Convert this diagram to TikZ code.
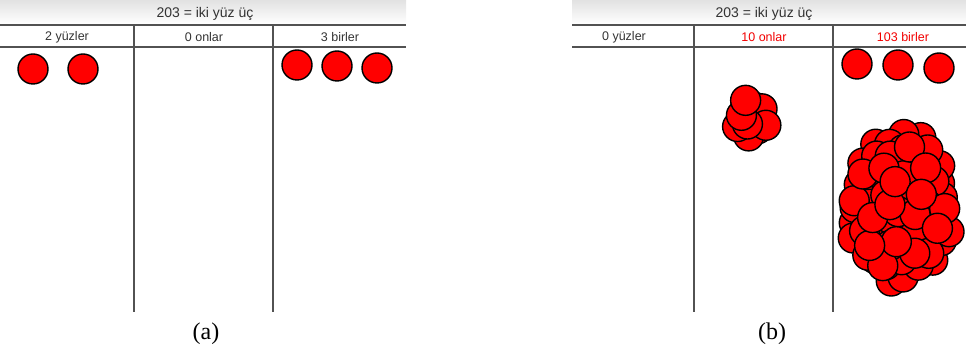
\documentclass[tikz,border=0pt]{standalone}
\usepackage{fontspec}
\setmainfont{Liberation Serif}
\newfontfamily\hdfont{Liberation Sans}
\usepackage{xcolor}
\usetikzlibrary{positioning}
\tikzset{
  coin/.style  ={circle, draw=black, line width=1.4pt, fill=red,
                 minimum size=30pt, inner sep=0pt},
  rule/.style  ={line width=1.6pt, black!68},
  band/.style  ={top color=black!11, bottom color=white, draw=none},
  hd/.style    ={font=\hdfont\fontsize{12.5}{14}\selectfont, text=black!80,
                 inner sep=1pt},
  ttl/.style   ={font=\hdfont\fontsize{14}{16}\selectfont, text=black!80,
                 inner sep=1pt},
  capt/.style  ={font=\fontsize{24}{26}\selectfont, inner sep=0pt}
}
\colorlet{hot}{red!95!black}

\begin{document}
\begin{tikzpicture}[x=1pt, y=-1pt]
\useasboundingbox (0,0) rectangle (966,352);

% panel (a): 203 as 2 hundreds, 0 tens, 3 ones
\shade[band] (0,1) rectangle (406,24);
\node[ttl] (ta) at (205,14) {203 = iki yüz üç};
\draw[rule] (0,25) -- (406,25);
\draw[rule] (0,47) -- (406,47);
\draw[rule] (134,25) -- (134,312);
\draw[rule] (273,25) -- (273,312);
\node[hd] (ha) at (67,37) {2 yüzler};
\node[hd] (ta2) at (204,37) {0 onlar};
\node[hd] (oa) at (340,37) {3 birler};
\node[coin] (a1) at (33,69) {};
\node[coin] (a2) at (83,69) {};
\node[coin] (a3) at (297,65) {};
\node[coin] (a4) at (337,66) {};
\node[coin] (a5) at (377,68) {};
\node[capt] (capa) at (206,334) {(a)};

% panel (b): 203 as 0 hundreds, 10 tens, 103 ones
\shade[band] (572,1) rectangle (966,24);
\node[ttl] (tb) at (764,14) {203 = iki yüz üç};
\draw[rule] (572,25) -- (966,25);
\draw[rule] (572,47) -- (966,47);
\draw[rule] (694,25) -- (694,312);
\draw[rule] (833,25) -- (833,312);
\node[hd] (hb) at (624,37) {0 yüzler};
\node[hd, text=hot] (tb2) at (764,37) {10 onlar};
\node[hd, text=hot] (ob) at (903,37) {103 birler};
\node[coin] (b1) at (857,64) {};
\node[coin] (b2) at (898,65) {};
\node[coin] (b3) at (939,68) {};

% heap of ten
\foreach \k in {0,...,9} {
  \pgfmathtruncatemacro\m{mod(\k*3,10)}
  \pgfmathsetmacro\rr{sqrt((\m+0.5)/10)}
  \pgfmathsetmacro\aa{\m*137.508}
  \node[coin] (t\k) at ({752+16*\rr*cos(\aa)}, {118+23*\rr*sin(\aa)}) {};
}

% heap of a hundred
\pgfmathsetseed{7}
\foreach \k in {0,...,99} {
  \pgfmathtruncatemacro\m{mod(\k*37,100)}
  \pgfmathsetmacro\rr{sqrt((\m+0.5)/100)}
  \pgfmathsetmacro\aa{\m*137.508}
  \node[coin] (u\k) at ({900+50*\rr*cos(\aa)+3*rand}, {208+74*\rr*sin(\aa)+3*rand}) {};
}
\node[capt] (capb) at (772,334) {(b)};

\end{tikzpicture}
\end{document}
